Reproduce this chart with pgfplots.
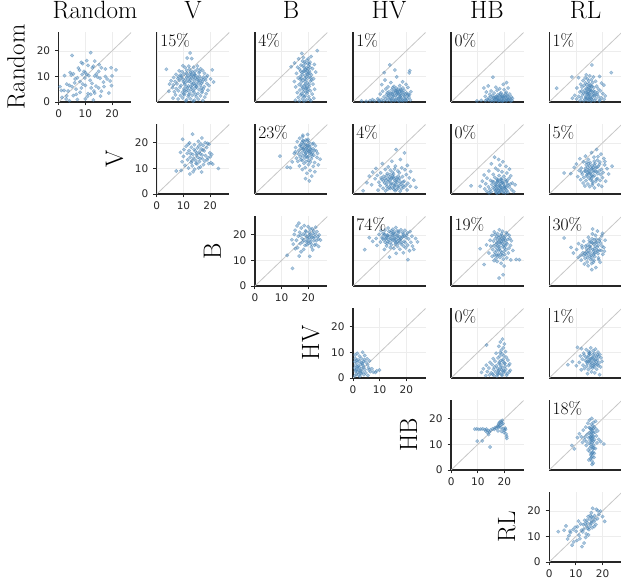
\documentclass[border=0pt]{standalone}
\usepackage{fontspec}
\newfontfamily\tickfont{DejaVu Sans}
\usepackage{pgfplots}
\pgfplotsset{compat=1.18}
\definecolor{pt}{HTML}{4682B4}
\definecolor{axgray}{HTML}{262626}
\tikzset{pct/.style={anchor=north west, inner sep=0pt, font=\fontsize{17.5}{20}\selectfont},
 ttl/.style={anchor=base, font=\fontsize{25}{30}\selectfont},
 rlab/.style={anchor=base, rotate=90, font=\fontsize{25}{30}\selectfont}}
\pgfplotsset{
 panel/.style={scale only axis, width=72.5pt, height=70pt,
   xmin=0, xmax=27.2, ymin=0, ymax=27.4,
   axis x line*=bottom, axis y line*=left,
   axis line style={line width=1.3pt, color=axgray},
   xtick={0,10,20}, ytick={0,10,20},
   grid=major, major grid style={line width=0.6pt, color=black!7},
   clip mode=individual, anchor=south west},
 off/.style={panel, xticklabels={}, yticklabels={}, major tick length=0pt},
 diag/.style={panel, tick align=outside, major tick length=3.5pt,
   tick style={line width=0.9pt, color=axgray},
   ticklabel style={font=\tickfont\fontsize{10.5}{12}\selectfont, text=axgray},
   xticklabel style={yshift=-1pt}, yticklabel style={xshift=-1.5pt},
   /pgf/number format/assume math mode=true},
 pts/.style={only marks, mark=*, mark size=1.75pt, color=pt, opacity=0.45, mark options={draw=none, fill=pt}},
 dg/.style={black!22, line width=0.8pt},
}
\begin{document}
\begin{tikzpicture}
\path[use as bounding box] (0,0) rectangle (621pt,583pt);
% titles
\node[ttl] at (95pt,564pt) {Random};
\node[ttl] at (193pt,564pt) {V};
\node[ttl] at (291pt,564pt) {B};
\node[ttl] at (389pt,564pt) {HV};
\node[ttl] at (487pt,564pt) {HB};
\node[ttl] at (585.5pt,564pt) {RL};
% row labels
\node[rlab] at (24.7pt,516pt) {Random};
\node[rlab] at (122.8pt,424pt) {V};
\node[rlab] at (220.9pt,332pt) {B};
\node[rlab] at (319pt,240pt) {HV};
\node[rlab] at (417.1pt,148pt) {HB};
\node[rlab] at (515.2pt,56pt) {RL};

% ---------- row 0 ----------
\begin{axis}[diag, at={(58.7pt,481pt)}]
\addplot[dg] coordinates {(0,0) (27.2,27.2)};
\addplot[pts] coordinates {(5,18.2) (12,19.3) (10.5,16.2) (8.5,15.5) (9,15) (11,14.3) (13,14) (12.6,13.4) (16,13.4) (19.7,13.4) (21.5,12.6) (17.5,12.9) (15,12) (7.8,12.5) (4.3,11.5) (4.7,10.5) (5.5,11) (10,11.5) (10.5,10.7) (11.3,10.3) (13.5,10.2) (14.5,9.8) (15.5,9.3) (17.5,10) (18.2,9) (20,10.2) (19.3,8.2) (6.2,9) (7,9.5) (8,8) (3,7) (1,4.5) (0.5,6) (2,4.5) (4,6.5) (5,6) (6,7.5) (9,7) (10,6.5) (12.5,7.3) (14,6.2) (15,5.5) (17,6) (16,4.2) (13.2,4.3) (11,3.3) (12,3) (13.5,3.5) (8,3.8) (5.5,2.5) (3,2.4) (2.8,1.2) (7,1) (10,1.2) (13,0.8) (15.7,2.3) (18.8,3.5) (4,0.5) (1.2,1.8) (8.5,5.5) (9.5,12) (6.5,5) (11.8,8.5) (14.2,11) (12.2,5.5) (16.8,7.8) (19.8,6.4) (3.5,4.3) (7.4,13.3) (10.8,2.2) (6.6,3) (9.8,9.4) (13.5,16) (15.2,14.6) (2.2,10.3) (8.8,10.8)};
\end{axis}

\begin{axis}[off, at={(156.8pt,481pt)}]
\addplot[dg] coordinates {(0,0) (27.2,27.2)};
\addplot[pts] coordinates {(12.5,19.2) (11.4,17.2) (13.1,17.0) (3.6,12.8) (20.8,12.6) (17.2,12.3) (9.8,14.2) (10.6,13.5) (12.0,14.0) (13.8,13.6) (15.2,14.1) (16.4,13.0) (8.4,12.2) (9.5,11.8) (11.2,12.4) (12.7,11.6) (14.3,12.0) (15.8,11.4) (17.9,11.2) (7.2,10.8) (8.8,10.5) (10.2,10.9) (11.6,10.2) (13.0,10.7) (14.6,10.4) (16.0,10.0) (17.5,9.7) (19.0,10.3) (6.3,9.6) (7.9,9.2) (9.3,9.5) (10.8,9.0) (12.2,9.3) (13.7,9.8) (15.1,8.9) (16.6,9.1) (18.3,8.6) (20.2,9.0) (5.4,8.3) (6.9,8.0) (8.5,8.5) (10.0,7.9) (11.4,8.2) (12.9,7.6) (14.2,8.1) (15.7,7.5) (17.1,7.9) (18.8,7.2) (21.3,7.8) (4.8,7.0) (6.2,6.7) (7.6,7.1) (9.1,6.5) (10.5,6.9) (11.9,6.3) (13.4,6.8) (14.9,6.1) (16.3,6.6) (17.8,6.0) (19.6,6.4) (5.9,5.6) (7.3,5.2) (8.7,5.8) (10.2,5.1) (11.5,5.5) (12.8,4.9) (14.4,5.3) (15.9,4.8) (17.4,5.1) (19.2,4.6) (4.5,4.2) (6.6,4.0) (8.1,4.4) (9.6,3.8) (11.0,4.1) (12.4,3.5) (13.9,3.9) (15.4,3.3) (16.9,3.7) (18.5,3.2) (7.0,2.8) (8.9,2.5) (10.4,2.9) (11.8,2.2) (13.3,2.6) (14.8,2.0) (16.4,2.4) (18.0,1.9) (6.1,1.5) (8.0,1.2) (9.7,1.6) (11.2,0.9) (12.6,1.3) (14.1,0.7) (15.6,1.1) (17.3,0.6) (10.9,0.4) (13.6,0.3) (12.3,12.8) (14.0,11.0) (13.5,9.0) (12.6,8.8) (14.8,7.0) (11.0,6.0) (13.2,5.6) (15.3,9.6) (10.1,3.2) (16.2,8.4) (12.9,10.0) (14.5,3.0) (9.9,8.7) (17.0,4.3)};
\addplot[pts] coordinates {(12.1,8.1) (13.8,7.2) (11.3,9.8) (15.6,8.3) (14.1,10.6) (12.7,6.1) (10.6,7.5) (16.8,7.3) (13.3,11.9) (11.7,4.6) (14.6,9.3) (9.2,10.2) (15.0,5.8) (12.4,10.9) (16.1,11.9) (13.6,4.4) (11.1,11.3) (17.6,8.8) (10.4,4.5) (14.3,6.5) (8.1,9.9) (16.7,5.5) (12.0,2.9) (15.2,12.7) (18.6,9.7)};
\node[pct] at (rel axis cs:0.045,0.985) {15\%};
\end{axis}

\begin{axis}[off, at={(254.9pt,481pt)}]
\addplot[dg] coordinates {(0,0) (27.2,27.2)};
\addplot[pts] coordinates {(23.4,20.1) (17.6,19.0) (18.2,17.4) (21.1,17.8) (16.4,16.9) (19.5,16.3) (20.7,15.6) (14.9,15.3) (18.9,15.0) (22.3,14.7) (17.3,14.4) (20.1,14.0) (13.6,13.8) (19.2,13.3) (21.6,13.1) (16.8,12.9) (18.4,12.3) (20.5,12.1) (22.8,11.7) (17.7,11.5) (19.8,11.0) (15.6,11.2) (21.2,10.6) (18.9,10.3) (17.1,10.0) (20.3,9.6) (16.2,9.4) (22.0,9.1) (19.3,8.8) (18.0,8.5) (20.9,8.2) (14.8,8.0) (17.4,7.7) (19.7,7.4) (21.8,7.0) (16.6,6.8) (18.6,6.5) (20.4,6.1) (15.3,5.9) (17.9,5.6) (19.1,5.2) (22.4,5.0) (16.9,4.7) (20.8,4.4) (18.3,4.0) (15.9,3.7) (19.6,3.4) (21.5,3.1) (17.2,2.8) (18.8,2.4) (20.2,2.1) (16.3,1.8) (22.1,1.5) (17.8,1.2) (19.4,0.9) (15.2,0.7) (21.0,0.5) (18.5,0.3) (16.7,0.4) (20.6,1.0) (19.0,12.7) (18.1,14.2) (19.9,15.1) (20.0,10.8) (18.7,9.2) (19.5,6.0) (17.5,3.3) (20.7,13.5) (18.3,11.9) (19.2,5.5) (21.3,8.6) (17.0,8.9) (19.8,4.2) (16.0,13.6) (18.6,2.0) (20.1,17.0) (17.9,16.0)};
\addplot[pts] coordinates {(18.5,13.5) (19.6,12.2) (17.8,10.7) (20.6,11.3) (18.8,8.0) (19.4,9.9) (17.6,6.2) (20.3,7.0) (18.2,5.0) (19.9,13.0) (17.1,12.1) (21.0,9.5) (18.6,15.6) (19.1,3.9) (20.5,14.8) (18.0,2.5) (19.3,11.5) (17.4,9.2) (20.0,5.0) (18.9,6.9)};
\node[pct] at (rel axis cs:0.045,0.985) {4\%};
\end{axis}

\begin{axis}[off, at={(353pt,481pt)}]
\addplot[dg] coordinates {(0,0) (27.2,27.2)};
\addplot[pts] coordinates {(13.8,14.5) (11.7,11.5) (15.7,12.5) (21.3,12.3) (21.1,11.4) (12.0,8.6) (16.4,9.8) (14.2,7.6) (18.6,7.9) (10.8,6.8) (17.5,6.4) (19.9,6.9) (13.1,5.9) (15.4,6.1) (20.6,5.7) (12.3,5.1) (14.6,4.8) (16.2,5.4) (17.9,5.0) (19.2,4.6) (11.1,4.2) (13.5,4.0) (15.0,3.7) (16.8,4.3) (18.3,3.9) (20.1,3.5) (21.7,4.0) (10.2,3.1) (12.6,2.9) (14.1,3.3) (15.8,2.6) (17.2,3.0) (18.9,2.7) (20.5,2.4) (11.6,2.0) (13.0,1.8) (14.7,2.2) (16.3,1.6) (17.7,2.0) (19.4,1.5) (21.0,1.9) (9.3,1.2) (10.7,0.9) (12.2,1.1) (13.8,0.8) (15.3,1.0) (16.9,0.6) (18.4,0.9) (20.0,0.5) (21.5,0.8) (8.1,0.4) (6.4,0.5) (4.9,0.3) (3.2,0.4) (7.3,0.9) (11.4,0.4) (14.4,0.3) (17.4,0.3) (19.0,0.4) (15.9,3.8) (16.5,2.9) (18.0,4.6) (17.1,1.2) (19.7,3.2) (14.9,5.6) (18.7,5.5) (16.0,4.5) (13.3,2.5) (20.3,1.2) (12.8,0.5) (18.1,1.6) (15.5,0.5) (10.0,0.3) (16.7,3.5) (17.6,4.0) (19.3,2.3) (14.0,1.4) (12.9,3.6) (21.2,2.9) (9.6,0.6)};
\addplot[pts] coordinates {(15.2,2.3) (16.6,3.9) (17.9,2.5) (14.5,1.2) (18.8,3.6) (16.1,0.8) (19.6,1.0) (15.7,4.6) (17.3,1.7) (13.9,2.8) (18.3,0.5) (16.9,5.0) (20.7,3.0) (14.8,3.2) (17.7,3.1)};
\node[pct] at (rel axis cs:0.045,0.985) {1\%};
\end{axis}

\begin{axis}[off, at={(451.1pt,481pt)}]
\addplot[dg] coordinates {(0,0) (27.2,27.2)};
\addplot[pts] coordinates {(15.7,9.7) (20.8,7.6) (19.6,6.9) (12.3,5.5) (13.9,6.3) (16.8,5.8) (18.2,5.2) (21.4,5.5) (17.3,4.6) (15.0,4.3) (19.9,4.8) (13.2,3.9) (20.7,3.8) (16.1,3.5) (18.7,3.6) (14.5,3.0) (22.0,3.1) (17.6,2.9) (19.3,2.7) (21.1,2.5) (15.6,2.4) (12.8,2.2) (16.9,2.1) (18.4,2.0) (20.2,1.9) (22.6,2.0) (14.2,1.6) (15.9,1.5) (17.4,1.4) (19.0,1.3) (20.8,1.2) (21.9,1.5) (13.5,1.0) (16.4,0.9) (18.1,0.8) (19.7,0.7) (21.4,0.9) (22.8,0.6) (11.3,0.6) (12.9,0.5) (14.8,0.4) (16.0,0.3) (17.5,0.4) (19.2,0.3) (20.6,0.4) (22.3,0.3) (9.7,0.4) (15.3,0.8) (18.9,1.8) (17.0,1.0) (20.0,2.4) (16.6,1.9) (19.5,0.5) (18.5,3.1) (21.7,1.1) (14.0,0.8) (23.0,1.4) (17.9,0.6) (20.4,3.3) (15.0,2.0)};
\addplot[pts] coordinates {(17.2,1.9) (18.6,0.5) (19.8,1.6) (16.3,1.3) (20.9,0.8) (18.0,2.4) (21.2,2.2) (17.7,0.9) (19.3,2.1)};
\node[pct] at (rel axis cs:0.045,0.985) {0\%};
\end{axis}

\begin{axis}[off, at={(549.2pt,481pt)}]
\addplot[dg] coordinates {(0,0) (27.2,27.2)};
\addplot[pts] coordinates {(2.8,5.4) (16.0,14.5) (23.3,11.5) (8.5,9.8) (11.0,9.5) (13.9,10.6) (15.2,10.2) (16.6,9.8) (14.3,9.1) (18.9,10.0) (12.7,8.4) (15.8,8.7) (17.4,8.1) (13.6,7.5) (14.9,7.2) (16.3,7.6) (19.6,7.4) (11.8,6.9) (13.1,6.5) (14.7,6.0) (15.9,6.4) (17.8,6.2) (20.5,6.6) (10.4,5.5) (12.3,5.8) (14.0,5.3) (15.4,5.0) (16.7,5.6) (18.4,5.1) (13.3,4.6) (14.5,4.2) (15.7,4.5) (17.1,4.0) (19.2,4.4) (11.5,3.9) (12.9,3.4) (14.2,3.7) (15.1,3.1) (16.5,3.5) (17.9,3.0) (20.1,3.3) (9.6,2.6) (11.1,2.2) (12.5,2.8) (13.8,2.3) (15.3,2.0) (16.9,2.5) (18.5,2.1) (21.0,2.4) (8.7,1.5) (10.3,1.2) (12.0,1.6) (13.4,1.1) (14.6,1.4) (16.1,0.9) (17.5,1.3) (19.0,0.8) (20.6,1.1) (11.6,0.5) (13.0,0.4) (14.4,0.6) (15.6,0.3) (17.0,0.5) (18.8,0.4) (14.8,8.3) (14.1,6.8) (15.0,5.7) (14.4,2.9) (16.2,1.9) (13.7,1.8) (15.5,3.9) (12.2,4.3) (17.3,2.7) (14.9,0.9) (16.0,6.0) (13.5,9.4) (18.1,3.7) (15.2,1.5) (19.5,1.6)};
\addplot[pts] coordinates {(14.6,3.2) (15.3,4.6) (13.9,1.3) (16.2,2.8) (14.2,5.0) (15.8,1.2) (14.9,2.4) (16.6,4.3) (13.6,3.7) (15.4,6.5)};
\node[pct] at (rel axis cs:0.045,0.985) {1\%};
\end{axis}

% ---------- row 1 ----------
\begin{axis}[diag, at={(156.8pt,389pt)}]
\addplot[dg] coordinates {(0,0) (27.2,27.2)};
\addplot[pts] coordinates {(13.4,23.4) (9.7,21.4) (16.9,21.9) (18.2,20.1) (15.6,20.6) (12.3,20.0) (14.1,19.3) (17.4,19.0) (19.6,19.5) (11.0,18.7) (13.0,18.3) (15.2,18.0) (16.6,17.6) (18.7,18.2) (10.2,17.4) (12.1,17.0) (14.4,16.8) (15.9,16.4) (17.8,16.9) (19.9,16.1) (8.9,16.3) (11.4,15.9) (13.5,15.5) (14.9,15.2) (16.3,15.7) (18.3,15.0) (20.6,15.5) (10.0,14.7) (12.5,14.4) (13.8,14.0) (15.4,14.3) (17.1,13.8) (19.2,14.1) (11.6,13.4) (14.6,13.1) (16.0,12.7) (18.0,12.9) (20.3,12.2) (9.5,12.6) (12.9,12.3) (15.1,11.8) (17.5,11.5) (19.5,11.9) (10.6,11.2) (13.3,11.0) (16.4,10.6) (21.0,11.7) (23.1,10.0) (11.9,10.1) (14.2,9.7) (7.3,9.0) (9.1,9.2) (13.6,8.7) (16.8,8.6) (12.4,7.8) (15.7,10.2) (14.0,17.4) (15.0,16.0) (16.2,13.9) (13.2,13.0) (17.0,15.3) (14.7,12.0) (15.8,18.8) (18.9,13.4) (12.7,15.8) (11.8,19.4) (17.3,17.2) (19.0,19.8) (20.1,14.6) (16.5,19.6)};
\end{axis}

\begin{axis}[off, at={(254.9pt,389pt)}]
\addplot[dg] coordinates {(0,0) (27.2,27.2)};
\addplot[pts] coordinates {(9.4,14.8) (12.1,10.5) (13.3,10.3) (14.0,12.6) (14.8,15.9) (15.3,18.2) (15.9,20.5) (16.4,17.0) (16.8,21.8) (17.2,19.3) (17.6,16.2) (17.9,22.4) (18.2,20.6) (18.5,18.1) (18.8,15.4) (19.1,21.1) (19.4,19.0) (19.7,17.2) (20.0,14.6) (20.3,20.2) (20.6,18.4) (20.9,16.5) (21.2,13.8) (21.5,19.6) (21.8,17.7) (22.1,15.2) (22.4,12.3) (22.7,18.9) (23.0,16.9) (23.3,14.3) (15.6,14.0) (16.1,12.8) (16.7,11.0) (17.3,13.4) (17.8,9.6) (18.4,12.0) (18.9,10.3) (19.5,8.1) (20.1,11.5) (20.7,9.2) (21.3,7.0) (21.9,10.8) (22.5,8.7) (19.0,6.0) (20.4,5.1) (23.8,11.4) (24.5,13.6) (19.8,23.3) (18.0,23.0) (17.0,14.5) (18.6,16.8) (19.3,14.9) (19.9,18.9) (20.5,15.8) (21.0,17.3) (18.3,19.5) (19.6,20.8) (17.5,18.6) (20.2,13.1) (21.6,16.1) (16.5,15.6) (19.2,12.7) (22.0,19.8) (18.7,14.1) (20.8,12.5) (17.7,20.2) (19.4,16.3) (21.4,14.8) (16.9,18.9) (18.1,17.6) (20.0,17.0) (22.3,17.0) (15.2,16.5) (23.5,15.9)};
\addplot[pts] coordinates {(18.4,17.3) (19.5,18.2) (17.9,15.0) (20.4,19.0) (19.0,16.0) (18.0,20.9) (20.8,17.7) (19.7,14.3) (17.3,17.8) (21.1,15.6) (18.9,19.5) (19.9,21.4) (20.3,16.6) (17.8,13.1) (19.3,17.9)};
\node[pct] at (rel axis cs:0.045,0.985) {23\%};
\end{axis}

\begin{axis}[off, at={(353pt,389pt)}]
\addplot[dg] coordinates {(0,0) (27.2,27.2)};
\addplot[pts] coordinates {(16.2,17.4) (19.3,16.1) (17.8,13.5) (14.6,12.8) (11.0,11.9) (20.4,11.2) (13.2,10.6) (15.9,10.9) (18.3,10.2) (8.6,10.0) (12.1,9.6) (14.0,9.3) (16.8,9.0) (19.5,9.5) (21.6,8.8) (7.4,8.6) (10.4,8.3) (12.9,8.0) (15.2,7.8) (17.4,8.3) (20.0,7.6) (6.1,7.0) (9.1,7.3) (11.5,6.9) (13.7,6.6) (14.9,7.1) (16.2,6.4) (18.6,6.8) (21.1,6.3) (8.3,6.0) (10.8,5.7) (12.4,5.4) (14.3,5.9) (15.7,5.2) (17.1,5.6) (19.2,5.0) (22.8,5.4) (9.7,4.6) (11.9,4.3) (13.3,4.8) (15.0,4.1) (16.6,4.5) (18.0,3.9) (20.6,4.2) (7.0,3.6) (10.2,3.3) (12.7,3.0) (14.1,3.5) (15.5,2.8) (17.3,3.2) (19.0,2.6) (21.5,3.0) (11.3,2.2) (13.0,1.9) (14.7,2.4) (16.3,1.7) (18.2,2.1) (20.3,1.6) (23.6,2.6) (3.8,1.3) (9.4,1.5) (12.2,1.2) (15.8,1.3) (17.7,1.1) (14.4,6.3) (16.0,3.7) (13.8,5.1) (15.3,6.0) (12.6,7.2) (17.0,7.0) (14.9,8.5) (18.8,4.7) (13.6,2.7) (16.9,2.3) (11.4,5.1) (19.8,3.4) (15.6,9.8) (10.6,6.3) (5.2,4.4)};
\addplot[pts] coordinates {(14.3,4.1) (15.6,3.3) (13.1,5.9) (16.4,5.8) (17.9,4.6) (12.5,3.9) (15.1,6.6) (16.9,2.9) (14.0,2.2) (18.7,3.2) (13.9,7.6) (16.1,4.9) (15.4,1.8) (17.5,6.2) (12.0,6.1)};
\node[pct] at (rel axis cs:0.045,0.985) {4\%};
\end{axis}

\begin{axis}[off, at={(451.1pt,389pt)}]
\addplot[dg] coordinates {(0,0) (27.2,27.2)};
\addplot[pts] coordinates {(7.5,3.2) (16.3,14.4) (17.8,13.5) (19.4,12.6) (15.1,11.8) (18.3,11.3) (20.6,10.8) (16.7,10.1) (21.9,9.7) (14.2,9.0) (17.6,9.3) (19.1,8.7) (20.9,8.2) (12.4,7.4) (15.8,7.7) (18.0,7.2) (19.8,6.9) (22.4,7.1) (13.5,6.2) (16.4,6.5) (17.2,5.8) (18.9,6.0) (20.3,5.6) (21.7,6.1) (11.7,5.0) (14.8,5.3) (16.0,4.7) (17.5,5.0) (19.2,4.5) (20.7,4.9) (23.0,4.3) (13.0,4.0) (15.3,3.7) (16.8,4.1) (18.2,3.5) (19.6,3.9) (21.3,3.4) (24.0,3.6) (10.9,3.0) (14.0,2.8) (15.7,2.5) (17.1,3.0) (18.6,2.6) (20.0,2.3) (21.8,2.7) (12.6,2.0) (14.6,1.7) (16.2,1.9) (17.7,1.5) (19.3,1.8) (20.9,1.4) (22.7,1.7) (13.4,1.0) (15.0,0.9) (16.6,1.2) (18.1,0.8) (19.7,1.0) (21.3,0.7) (23.5,0.9) (14.3,0.4) (17.3,0.3) (20.4,0.4) (18.8,4.2) (17.9,2.2) (19.0,5.3) (16.5,2.9) (18.4,1.2) (19.9,3.0) (17.4,4.5) (20.5,1.9) (15.5,4.9) (18.6,5.7) (21.0,5.2) (16.9,0.6) (22.2,3.9)};
\addplot[pts] coordinates {(17.9,3.3) (18.7,1.7) (19.5,4.4) (17.2,2.0) (20.2,3.1) (18.3,4.9) (16.6,3.5) (19.1,2.4) (18.0,0.6) (20.6,2.6) (17.5,5.5) (19.4,0.6) (16.9,1.6) (18.5,3.0) (21.1,4.0)};
\node[pct] at (rel axis cs:0.045,0.985) {0\%};
\end{axis}

\begin{axis}[off, at={(549.2pt,389pt)}]
\addplot[dg] coordinates {(0,0) (27.2,27.2)};
\addplot[pts] coordinates {(5.6,8.2) (17.8,17.4) (15.9,16.2) (13.6,14.8) (19.4,15.6) (16.8,14.4) (11.5,13.8) (14.7,13.5) (18.1,13.2) (20.5,13.9) (12.8,12.6) (15.4,12.3) (17.2,12.0) (19.0,12.5) (10.2,11.7) (13.9,11.4) (16.1,11.1) (18.4,10.8) (20.8,11.4) (9.4,10.4) (12.0,10.1) (14.5,10.5) (15.8,9.8) (17.5,10.2) (19.6,9.6) (21.7,9.9) (11.2,9.2) (13.3,8.9) (16.6,8.6) (18.7,9.0) (20.2,8.4) (8.1,8.0) (12.4,7.8) (14.1,7.5) (15.3,8.1) (17.0,7.2) (19.3,7.6) (22.3,7.8) (10.7,6.8) (13.0,6.5) (14.9,6.2) (16.4,6.8) (18.1,6.0) (20.0,6.4) (11.8,5.6) (13.8,5.2) (15.6,5.5) (17.4,4.9) (19.1,5.3) (21.2,5.0) (12.7,4.3) (14.5,3.9) (16.3,4.2) (18.5,3.6) (15.2,2.9) (17.0,2.4) (13.4,3.1) (19.7,3.0) (14.8,11.9) (16.0,10.0) (15.0,9.2) (17.8,8.7) (13.6,10.0) (16.9,12.9) (14.3,8.3) (18.9,11.6) (15.7,7.0) (12.1,8.6) (17.7,5.8) (16.2,3.5) (14.0,12.4) (18.3,14.6) (20.9,12.7) (23.6,10.9)};
\addplot[pts] coordinates {(15.5,8.4) (16.7,9.3) (14.6,9.4) (17.3,8.9) (16.0,7.3) (15.1,11.0) (17.9,10.5) (14.2,7.0) (16.5,10.3) (18.2,8.0) (15.8,6.1) (13.7,9.0) (17.0,11.3) (16.3,5.0) (14.8,8.0)};
\node[pct] at (rel axis cs:0.045,0.985) {5\%};
\end{axis}

% ---------- row 2 ----------
\begin{axis}[diag, at={(254.9pt,297pt)}]
\addplot[dg] coordinates {(0,0) (27.2,27.2)};
\addplot[pts] coordinates {(14.1,6.9) (12.1,12.0) (16.6,11.7) (20.6,11.6) (15.2,14.6) (17.3,13.4) (14.4,16.4) (16.0,15.0) (18.3,14.3) (21.7,14.1) (13.9,18.1) (15.6,17.9) (17.0,16.6) (18.8,15.9) (20.1,16.7) (22.9,16.3) (14.8,20.2) (16.3,19.5) (17.7,18.6) (19.2,17.4) (20.8,18.1) (22.1,17.7) (23.8,18.4) (15.1,21.8) (16.8,21.0) (18.1,20.3) (19.6,19.3) (21.0,19.9) (22.5,19.2) (24.1,20.0) (15.8,23.5) (17.4,22.7) (19.0,21.6) (20.4,21.1) (21.8,20.6) (23.3,21.3) (18.5,23.6) (20.0,23.2) (21.5,22.4) (22.8,23.0) (16.5,24.6) (19.7,18.6) (20.9,17.2) (21.9,18.9) (22.4,16.0) (23.1,17.8) (19.5,16.1) (18.9,19.9) (20.5,20.1) (21.2,15.3) (22.0,21.6) (23.6,19.3) (24.6,18.0) (17.9,17.2) (19.2,21.2) (20.3,19.0) (21.4,19.0) (18.4,18.0) (19.9,17.5) (22.6,20.3) (20.7,22.3) (17.1,19.8) (21.1,16.4) (23.9,15.5)};
\end{axis}

\begin{axis}[off, at={(353pt,297pt)}]
\addplot[dg] coordinates {(0,0) (27.2,27.2)};
\addplot[pts] coordinates {(4.4,14.2) (20.6,10.3) (13.7,11.3) (16.2,12.8) (18.9,13.0) (11.8,14.3) (15.3,14.7) (17.6,14.4) (19.8,14.9) (22.3,15.6) (9.0,15.9) (12.6,15.7) (14.4,16.1) (16.7,15.5) (18.2,16.3) (20.5,16.0) (21.7,17.1) (24.2,17.3) (7.4,17.5) (10.3,17.2) (11.6,18.0) (13.1,17.4) (14.9,17.8) (16.0,17.0) (17.4,17.9) (19.2,17.5) (20.9,18.4) (23.5,18.6) (8.7,18.6) (10.9,19.1) (12.4,18.8) (13.8,19.4) (15.5,19.0) (16.9,18.7) (18.5,19.3) (19.9,18.9) (22.1,19.5) (9.8,20.2) (11.3,20.6) (12.9,20.0) (14.2,20.9) (15.8,20.4) (17.2,20.8) (18.9,20.3) (20.4,20.7) (21.4,21.3) (10.5,21.7) (12.0,21.9) (13.5,21.4) (15.0,22.2) (16.5,21.6) (18.0,22.0) (19.5,21.8) (13.2,22.7) (16.1,22.9) (14.6,18.3) (12.1,17.1) (17.8,18.1) (15.4,21.1) (13.0,19.7) (16.4,19.7) (11.0,18.5) (18.7,20.9) (14.0,15.0) (19.0,15.6) (21.2,13.8) (22.8,14.3) (6.1,18.9) (15.9,16.3) (17.1,16.8) (12.8,16.6) (20.1,19.8) (14.7,20.0) (11.7,19.9)};
\addplot[pts] coordinates {(14.1,18.6) (15.7,17.6) (16.8,19.6) (13.4,18.1) (17.6,19.2) (12.7,19.2) (15.1,20.6) (18.3,17.0) (16.2,18.1) (14.4,21.6) (19.1,19.6) (13.9,17.0) (17.1,21.4) (15.6,18.6) (11.9,20.3) (18.0,18.7) (16.6,17.3) (14.9,19.7) (19.6,17.0) (12.2,18.4)};
\node[pct] at (rel axis cs:0.045,0.985) {74\%};
\end{axis}

\begin{axis}[off, at={(451.1pt,297pt)}]
\addplot[dg] coordinates {(0,0) (27.2,27.2)};
\addplot[pts] coordinates {(12.4,8.4) (18.0,3.1) (19.5,4.4) (25.6,10.3) (24.4,10.4) (10.9,14.6) (13.3,16.1) (14.6,17.9) (15.3,19.8) (16.2,21.2) (17.4,20.5) (18.1,22.0) (19.3,21.4) (20.7,20.9) (21.8,19.8) (16.6,18.6) (17.9,19.1) (19.0,18.5) (20.2,19.4) (21.2,18.2) (22.6,17.7) (14.9,15.6) (16.0,15.8) (17.2,16.9) (18.5,16.8) (19.7,17.6) (21.0,16.5) (22.3,15.9) (15.6,14.3) (16.9,15.1) (18.2,14.6) (19.4,15.4) (20.6,14.2) (21.7,14.8) (23.2,13.9) (14.2,12.9) (16.4,13.2) (17.7,12.5) (19.0,13.1) (20.1,12.3) (21.5,12.9) (15.4,11.6) (16.8,10.8) (18.3,11.2) (19.6,10.5) (20.9,11.0) (22.4,10.2) (17.3,9.6) (18.8,8.9) (16.1,9.9) (19.9,7.8) (17.0,12.0) (18.6,13.7) (19.8,16.0) (20.4,17.9) (18.4,18.1) (17.6,15.7) (15.9,17.6) (19.2,19.7) (21.1,20.3) (16.5,20.2) (18.9,20.4) (20.0,14.9) (17.1,13.8) (19.3,12.0) (22.0,18.6) (18.0,17.0) (16.3,12.2)};
\addplot[pts] coordinates {(18.1,15.5) (19.1,16.7) (17.5,18.0) (20.3,15.7) (18.7,12.3) (17.8,14.2) (19.5,18.3) (18.4,19.6) (20.6,16.9) (16.9,16.3) (19.9,13.6) (17.2,19.3) (18.9,17.4) (20.0,18.8) (17.6,11.8)};
\node[pct] at (rel axis cs:0.045,0.985) {19\%};
\end{axis}

\begin{axis}[off, at={(549.2pt,297pt)}]
\addplot[dg] coordinates {(0,0) (27.2,27.2)};
\addplot[pts] coordinates {(5.6,18.8) (8.2,15.1) (9.1,12.9) (10.3,14.3) (11.0,16.6) (11.8,12.0) (12.4,14.9) (12.9,17.5) (13.5,10.8) (13.9,13.3) (14.3,16.0) (14.7,19.1) (15.1,11.7) (15.5,14.6) (15.8,17.2) (16.2,20.4) (16.6,9.3) (16.9,12.8) (17.3,15.6) (17.7,18.3) (18.1,21.5) (18.5,11.0) (18.9,14.0) (19.3,16.8) (19.7,19.6) (20.1,12.4) (20.5,15.1) (21.0,17.9) (13.2,8.6) (14.6,7.9) (15.9,8.8) (17.5,7.2) (16.0,6.4) (19.1,9.3) (12.0,10.1) (10.9,11.2) (14.0,12.2) (15.3,13.1) (16.4,14.3) (17.1,11.5) (18.3,12.7) (19.5,13.9) (15.0,15.5) (16.7,16.4) (18.0,15.2) (14.8,14.0) (13.6,15.6) (12.6,13.0) (17.9,17.0) (16.1,18.5) (19.0,18.3) (20.0,20.6) (17.4,19.8) (15.6,10.3) (16.8,10.0) (18.6,10.3) (14.2,9.4) (13.0,11.9) (18.2,13.7) (16.5,12.2) (15.2,16.9) (17.0,14.6) (19.8,15.6) (20.7,13.6) (14.5,11.0) (12.2,15.8) (16.3,22.3)};
\addplot[pts] coordinates {(15.4,15.4) (16.6,13.6) (17.5,16.9) (14.5,12.9) (16.2,16.9) (18.4,15.9) (15.8,12.0) (17.2,13.0) (14.0,14.6) (16.9,18.1) (18.8,17.6) (15.1,17.8) (17.8,14.0) (13.4,12.6) (16.0,11.0)};
\node[pct] at (rel axis cs:0.045,0.985) {30\%};
\end{axis}

% ---------- row 3 ----------
\begin{axis}[diag, at={(353pt,205pt)}]
\addplot[dg] coordinates {(0,0) (27.2,27.2)};
\addplot[pts] coordinates {(0.8,9.0) (1.6,9.6) (3.6,10.1) (2.5,8.5) (4.4,8.8) (0.9,7.6) (1.9,7.1) (3.1,7.7) (4.2,7.2) (5.3,7.5) (0.7,6.4) (1.5,5.9) (2.4,6.6) (3.3,6.0) (4.9,6.2) (6.2,6.7) (1.0,5.0) (2.0,4.6) (2.8,5.3) (3.8,4.9) (5.5,5.2) (0.6,3.9) (1.4,3.5) (2.3,4.1) (3.2,3.7) (4.5,3.3) (5.9,4.0) (7.1,3.6) (0.9,2.6) (1.8,2.2) (2.7,2.9) (3.6,2.4) (4.8,2.0) (6.5,2.5) (8.4,2.2) (9.9,3.1) (8.9,2.8) (1.2,1.5) (2.1,1.1) (3.0,1.7) (4.1,1.3) (5.6,1.0) (0.7,0.8) (2.6,0.7) (1.6,4.4) (2.2,3.0) (3.5,5.6) (1.3,6.9) (4.0,4.2) (2.9,2.0) (6.0,3.2) (7.6,2.3) (1.1,3.1) (3.9,6.5)};
\end{axis}

\begin{axis}[off, at={(451.1pt,205pt)}]
\addplot[dg] coordinates {(0,0) (27.2,27.2)};
\addplot[pts] coordinates {(13.3,12.9) (19.3,15.2) (18.5,14.1) (20.0,13.3) (17.9,12.4) (19.6,11.8) (18.8,10.9) (20.4,10.3) (16.9,9.7) (19.1,9.4) (18.3,8.6) (20.7,8.1) (15.8,7.6) (17.6,7.9) (19.5,7.3) (21.3,7.0) (14.6,6.1) (16.5,6.6) (18.1,6.2) (19.9,5.9) (22.0,5.5) (13.2,5.0) (15.4,5.3) (17.0,4.8) (18.7,5.1) (20.3,4.6) (21.6,4.9) (12.1,3.6) (14.2,3.9) (15.9,3.4) (17.4,3.8) (18.9,3.2) (20.5,3.5) (22.2,3.0) (11.4,2.2) (13.6,2.5) (15.1,2.0) (16.7,2.4) (18.2,1.9) (19.7,2.2) (21.1,1.7) (14.4,1.2) (16.0,1.0) (17.5,1.4) (19.1,0.9) (20.8,1.1) (13.0,0.9) (18.5,4.2) (19.4,6.6) (17.8,2.8) (20.1,2.7) (16.2,4.3) (19.0,1.4) (18.0,5.6) (17.2,0.8) (21.8,2.4) (15.6,1.5)};
\addplot[pts] coordinates {(18.6,6.8) (19.2,4.0) (18.0,3.1) (19.8,8.7) (17.6,1.9) (20.2,5.7) (18.4,9.9) (19.5,2.8)};
\node[pct] at (rel axis cs:0.045,0.985) {0\%};
\end{axis}

\begin{axis}[off, at={(549.2pt,205pt)}]
\addplot[dg] coordinates {(0,0) (27.2,27.2)};
\addplot[pts] coordinates {(10.6,12.0) (12.1,11.5) (8.7,6.4) (7.0,5.2) (10.2,4.8) (13.9,11.1) (15.6,11.8) (17.4,11.3) (14.8,10.4) (16.5,10.7) (18.3,10.1) (12.9,9.7) (15.2,9.3) (17.0,9.6) (19.0,9.2) (11.7,8.6) (13.8,8.2) (14.9,8.8) (16.2,8.0) (17.7,8.5) (19.4,7.9) (12.4,7.4) (13.5,6.9) (15.0,7.2) (16.6,6.7) (18.1,7.0) (19.8,6.5) (11.3,6.1) (14.3,5.8) (15.7,6.2) (17.3,5.6) (18.7,5.9) (12.7,5.0) (14.0,4.6) (15.4,5.1) (16.9,4.4) (18.4,4.8) (13.2,3.7) (14.7,3.3) (16.3,3.9) (17.8,3.4) (15.9,2.4) (17.1,2.0) (14.4,1.7) (18.9,1.3) (16.0,7.6) (15.5,4.2) (16.8,5.3) (14.6,6.5) (17.5,7.3) (13.1,8.9) (15.3,10.0) (18.5,8.3) (16.4,9.1) (12.0,3.2) (19.3,4.3)};
\addplot[pts] coordinates {(15.6,7.6) (16.9,8.3) (14.4,8.0) (17.7,6.3) (16.0,5.6) (15.2,6.6) (18.2,9.1) (14.1,6.3) (17.0,7.0) (16.5,4.7) (15.0,9.6) (18.0,5.2)};
\node[pct] at (rel axis cs:0.045,0.985) {1\%};
\end{axis}

% ---------- row 4 ----------
\begin{axis}[diag, at={(451.1pt,113pt)}]
\addplot[dg] coordinates {(0,0) (27.2,27.2)};
\addplot[pts] coordinates {(8.9,16.0) (9.6,16.1) (10.4,15.9) (11.1,16.0) (11.9,16.1) (12.6,15.8) (13.3,16.0) (13.9,15.4) (14.4,14.9) (14.8,15.6) (15.5,16.1) (16.2,15.9) (16.9,16.3) (17.4,17.2) (17.8,18.0) (18.1,18.5) (18.5,19.0) (18.9,18.7) (19.2,19.4) (17.7,16.8) (18.3,17.4) (18.7,16.5) (19.1,17.8) (19.6,16.2) (20.0,15.5) (20.4,15.9) (20.6,14.1) (20.8,13.2) (20.9,12.4) (19.8,14.7) (18.9,15.1) (17.6,15.3) (13.6,14.7) (14.1,13.9) (9.8,11.3) (11.7,11.4) (14.6,9.0) (19.4,18.2) (18.0,17.0) (16.5,16.6) (13.0,15.3) (20.3,16.4)};
\end{axis}

\begin{axis}[off, at={(549.2pt,113pt)}]
\addplot[dg] coordinates {(0,0) (27.2,27.2)};
\addplot[pts] coordinates {(8.5,9.6) (9.4,8.3) (10.6,12.7) (11.3,14.2) (12.1,13.0) (12.8,15.6) (13.2,11.8) (13.7,16.8) (14.2,13.9) (14.5,18.3) (14.8,12.6) (15.1,19.5) (15.3,16.4) (15.6,14.0) (15.8,17.9) (16.0,20.2) (16.2,15.3) (16.4,12.9) (16.6,18.6) (16.9,16.9) (17.2,14.7) (17.4,19.1) (17.7,13.3) (15.0,10.4) (15.4,11.6) (15.7,9.2) (16.1,10.8) (16.3,8.1) (16.6,11.3) (15.2,7.2) (15.9,6.3) (16.2,5.4) (15.5,4.4) (16.0,3.5) (16.5,2.7) (15.8,12.2) (16.7,9.7) (15.3,8.6) (16.4,7.0) (15.6,5.9) (16.8,4.9) (15.9,13.5) (16.5,14.5) (17.0,11.9) (17.9,10.6) (18.6,12.0) (19.3,11.1) (20.5,10.2) (13.9,9.6) (12.5,10.8) (14.6,7.8) (13.5,12.9) (17.5,16.1) (18.2,15.3) (16.3,17.3) (15.1,14.6) (14.9,3.9) (16.1,2.2) (15.4,13.0) (16.9,6.5) (17.3,8.4) (15.0,16.6) (14.0,11.1) (16.0,15.8)};
\addplot[pts] coordinates {(16.1,12.4) (15.7,10.1) (16.4,9.0) (15.9,14.7) (16.6,13.2) (16.2,6.7) (15.8,4.9) (16.4,16.3) (15.5,12.8) (16.7,8.6) (16.0,11.5) (15.6,16.1)};
\node[pct] at (rel axis cs:0.045,0.985) {18\%};
\end{axis}

% ---------- row 5 ----------
\begin{axis}[diag, at={(549.2pt,21pt)}]
\addplot[dg] coordinates {(0,0) (27.2,27.2)};
\addplot[pts] coordinates {(3.4,11.9) (5.6,12.4) (6.3,14.1) (6.9,9.0) (7.4,10.3) (8.0,11.5) (8.6,6.6) (9.2,7.9) (9.7,13.6) (10.1,12.0) (10.6,13.8) (11.2,10.5) (11.8,14.9) (12.3,6.0) (12.6,11.8) (13.0,12.9) (13.3,16.3) (13.7,9.6) (14.0,14.1) (14.3,15.4) (14.6,17.8) (14.9,12.7) (15.2,16.9) (15.5,14.6) (15.8,19.3) (16.1,13.4) (16.4,17.3) (16.7,15.7) (17.0,18.1) (17.3,16.5) (17.7,20.6) (18.1,17.0) (18.6,18.6) (19.2,19.9) (20.0,17.8) (20.8,15.9) (13.9,11.0) (12.1,12.4) (15.0,13.6) (16.0,16.0) (14.4,13.1) (15.7,15.2) (11.5,9.1) (10.4,8.4) (12.8,14.6) (14.7,10.6) (16.9,13.9) (15.4,18.2) (13.5,15.0) (17.5,14.7) (9.0,12.7) (18.3,20.0) (16.3,21.0) (11.0,16.0) (7.8,12.1) (14.2,16.4) (15.9,17.6) (13.1,7.4)};
\end{axis}
\end{tikzpicture}
\end{document}
